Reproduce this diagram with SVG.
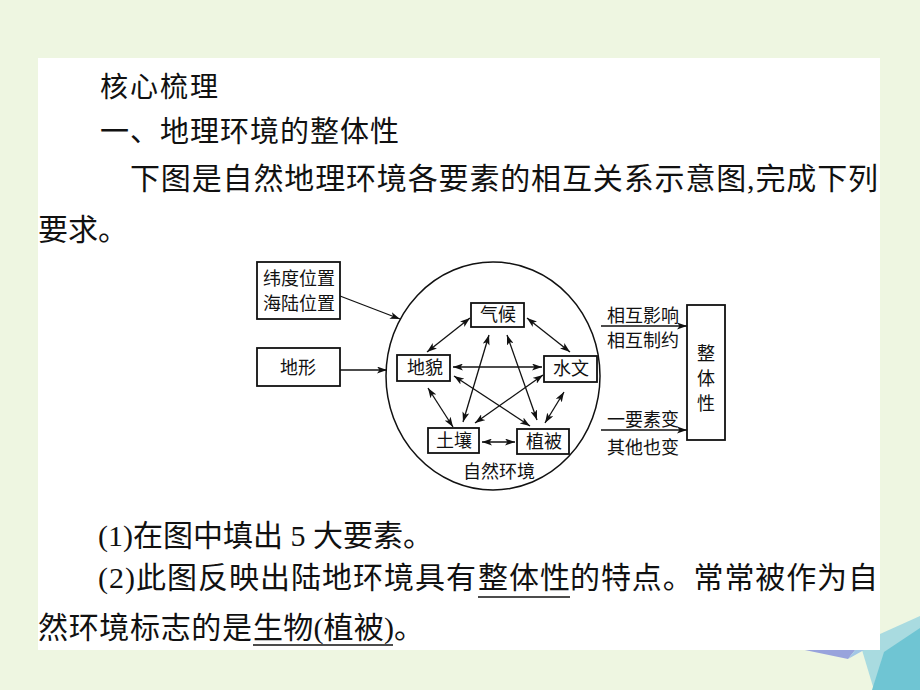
<svg xmlns="http://www.w3.org/2000/svg" width="920" height="690" viewBox="0 0 920 690">
<defs>
<style>
.t{font-family:"Noto Sans CJK SC","Liberation Sans",sans-serif;fill:#111;}
.b{font-family:"Liberation Serif","Noto Sans CJK SC",serif;fill:#111;font-size:30px;}
.d{font-family:"Liberation Serif","Noto Sans CJK SC",serif;fill:#111;font-size:18px;}
.box{fill:#fff;stroke:#111;stroke-width:1.8;}
.c{fill:none;stroke:#111;stroke-width:1.3;}
.u{stroke:#111;stroke-width:1.5;}
</style>
<marker id="ah" viewBox="0 0 10 7" markerWidth="10" markerHeight="7" refX="10" refY="3.5" orient="auto-start-reverse" markerUnits="userSpaceOnUse">
<path d="M0,0 L10,3.5 L0,7 L2.5,3.5 z" fill="#111"/>
</marker>
</defs>
<rect x="0" y="0" width="920" height="690" fill="#eef6e1"/>
<g id="decor">
<polygon points="862,650 880,634 920,616 920,690 874,690" fill="#a9dbe0"/>
<polygon points="884,652 920,628 920,690 872,690" fill="#6fc5d3"/>
<polygon points="800,649 848,659 856,649" fill="#98a3dc"/>
<polygon points="848,659 856,649 864,650" fill="#a3c6e6"/>
</g>
<rect id="panel" x="38" y="58" width="842" height="592" fill="#fff"/>
<g id="heading">
<text class="t" x="100" y="97" font-size="28" letter-spacing="2">核心梳理</text>
<text class="t" x="100" y="142" font-size="29" letter-spacing="1">一、地理环境的整体性</text>
<text class="b" x="130" y="189" textLength="748" lengthAdjust="spacing">下图是自然地理环境各要素的相互关系示意图,完成下列</text>
<text class="b" x="38" y="240">要求。</text>
</g>
<g id="questions">
<text class="b" x="98" y="546">(1)在图中填出 5 大要素。</text>
<text class="b" x="98" y="588" textLength="378" lengthAdjust="spacing">(2)此图反映出陆地环境具有</text>
<text class="b" x="478" y="588" textLength="92" lengthAdjust="spacing">整体性</text>
<text class="b" x="570" y="588" textLength="308" lengthAdjust="spacing">的特点。常常被作为自</text>
<line class="u" x1="478" y1="597" x2="570" y2="597"/>
<text class="b" x="38" y="638" textLength="214" lengthAdjust="spacing">然环境标志的是</text>
<text class="b" x="253" y="638" textLength="141" lengthAdjust="spacing">生物(植被)</text>
<text class="b" x="394" y="638">。</text>
<line class="u" x1="253" y1="645" x2="393" y2="645"/>
</g>
<g id="natural-env">
<ellipse cx="493" cy="376" rx="107" ry="114" fill="none" stroke="#111" stroke-width="1.5"/>
<text class="d" x="499" y="478" text-anchor="middle">自然环境</text>
</g>
<g id="connectors">
<line class="c" x1="340" y1="296" x2="400" y2="319" marker-end="url(#ah)"/>
<line class="c" x1="340" y1="370" x2="387" y2="370" marker-end="url(#ah)"/>
<line class="c" x1="470" y1="318" x2="427" y2="352" marker-start="url(#ah)" marker-end="url(#ah)"/>
<line class="c" x1="527" y1="318" x2="570" y2="352" marker-start="url(#ah)" marker-end="url(#ah)"/>
<line class="c" x1="453" y1="367" x2="542" y2="367" marker-start="url(#ah)" marker-end="url(#ah)"/>
<line class="c" x1="428" y1="388" x2="453" y2="427" marker-start="url(#ah)" marker-end="url(#ah)"/>
<line class="c" x1="454" y1="376" x2="530" y2="426" marker-start="url(#ah)" marker-end="url(#ah)"/>
<line class="c" x1="489" y1="335" x2="463" y2="422" marker-start="url(#ah)" marker-end="url(#ah)"/>
<line class="c" x1="507" y1="335" x2="537" y2="420" marker-start="url(#ah)" marker-end="url(#ah)"/>
<line class="c" x1="543" y1="375" x2="475" y2="423" marker-start="url(#ah)" marker-end="url(#ah)"/>
<line class="c" x1="564" y1="392" x2="545" y2="423" marker-start="url(#ah)" marker-end="url(#ah)"/>
<line class="c" x1="482" y1="442" x2="515" y2="442" marker-start="url(#ah)" marker-end="url(#ah)"/>
<line class="c" x1="601" y1="326" x2="687" y2="326" marker-end="url(#ah)"/>
<line class="c" x1="601" y1="430" x2="687" y2="430" marker-end="url(#ah)"/>
<text class="d" x="643" y="322" text-anchor="middle">相互影响</text>
<text class="d" x="643" y="347" text-anchor="middle">相互制约</text>
<text class="d" x="643" y="426" text-anchor="middle">一要素变</text>
<text class="d" x="643" y="454" text-anchor="middle">其他也变</text>
</g>
<g id="location">
<rect class="box" x="257" y="262" width="83" height="57"/>
<text class="d" x="299" y="285" text-anchor="middle" font-size="19">纬度位置</text>
<text class="d" x="299" y="310" text-anchor="middle" font-size="19">海陆位置</text>
</g>
<g id="terrain">
<rect class="box" x="257" y="348" width="83" height="38"/>
<text class="d" x="298" y="374" text-anchor="middle">地形</text>
</g>
<g id="climate">
<rect class="box" x="471" y="303" width="53" height="24"/>
<text class="d" x="498" y="321" text-anchor="middle">气候</text>
</g>
<g id="landform">
<rect class="box" x="397" y="355" width="53" height="26"/>
<text class="d" x="425" y="374" text-anchor="middle">地貌</text>
</g>
<g id="hydrology">
<rect class="box" x="544" y="356" width="53" height="26"/>
<text class="d" x="571" y="375" text-anchor="middle">水文</text>
</g>
<g id="soil">
<rect class="box" x="428" y="428" width="51" height="25"/>
<text class="d" x="454" y="447" text-anchor="middle">土壤</text>
</g>
<g id="vegetation">
<rect class="box" x="517" y="429" width="52" height="25"/>
<text class="d" x="544" y="448" text-anchor="middle">植被</text>
</g>
<g id="integrity">
<rect class="box" x="687" y="305" width="38" height="135"/>
<text class="d" x="706" y="360" text-anchor="middle" font-size="19">整</text>
<text class="d" x="706" y="385" text-anchor="middle" font-size="19">体</text>
<text class="d" x="706" y="410" text-anchor="middle" font-size="19">性</text>
</g>
</svg>
